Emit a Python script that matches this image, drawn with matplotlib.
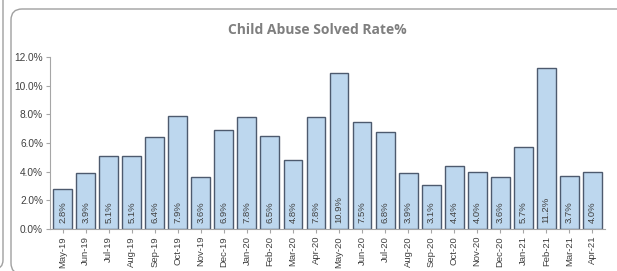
import matplotlib
matplotlib.use('Agg')
import matplotlib.pyplot as plt
from matplotlib.patches import FancyBboxPatch
from matplotlib.transforms import IdentityTransform
from matplotlib.ticker import FuncFormatter

# Daten
monate = ['May-19', 'Jun-19', 'Jul-19', 'Aug-19', 'Sep-19', 'Oct-19', 'Nov-19', 'Dec-19',
          'Jan-20', 'Feb-20', 'Mar-20', 'Apr-20', 'May-20', 'Jun-20', 'Jul-20', 'Aug-20',
          'Sep-20', 'Oct-20', 'Nov-20', 'Dec-20', 'Jan-21', 'Feb-21', 'Mar-21', 'Apr-21']
rate = [2.8, 3.9, 5.1, 5.1, 6.4, 7.9, 3.6, 6.9, 7.8, 6.5, 4.8, 7.8,
        10.9, 7.5, 6.8, 3.9, 3.1, 4.4, 4.0, 3.6, 5.7, 11.2, 3.7, 4.0]
y_ticks = [0, 2, 4, 6, 8, 10, 12]

W, H = 617, 271
fig = plt.figure(figsize=(W / 100, H / 100), dpi=100, facecolor='white')
plt.rcParams['font.family'] = ['Liberation Sans', 'DejaVu Sans']

# Rahmen (Pixelkoordinaten, Ursprung unten links)
rahmen = FancyBboxPatch((11, -3), 640, 265,
                        boxstyle='round,pad=0,rounding_size=11',
                        transform=IdentityTransform(), fill=False,
                        edgecolor='#A0A0A0', linewidth=1.0)
fig.patches.append(rahmen)
rahmen2 = FancyBboxPatch((-100, 2), 103, 300,
                         boxstyle='round,pad=0,rounding_size=9',
                         transform=IdentityTransform(), fill=False,
                         edgecolor='#A0A0A0', linewidth=1.0)
fig.patches.append(rahmen2)

ax = fig.add_axes([50 / W, 1 - 229 / H, 555 / W, 172 / H])
x = range(len(monate))
ax.bar(x, rate, width=0.82, color='#BDD7EE', edgecolor='#4D5A6E', linewidth=1.0)

for i, v in enumerate(rate):
    ax.text(i, 0.45, f'{v:.1f}%', rotation=90, ha='center', va='bottom',
            fontsize=6.8, color='#404040')

ax.set_xlim(-0.55, len(monate) - 0.45)
ax.set_ylim(0, 12)
ax.set_yticks(y_ticks)
ax.yaxis.set_major_formatter(FuncFormatter(lambda v, p: f'{v:.1f}%'))
ax.set_xticks(list(x))
ax.set_xticklabels(monate, rotation=90, fontsize=6.8, color='#404040')
ax.tick_params(axis='y', labelsize=7.3, labelcolor='#404040', length=3, color='#A6A6A6', pad=2)
ax.tick_params(axis='x', length=3, color='#A6A6A6', pad=2)
for s in ['top', 'right']:
    ax.spines[s].set_visible(False)
ax.spines['left'].set_color('#A6A6A6')
ax.spines['bottom'].set_color('#A6A6A6')

fig.text(317 / W, 1 - 30 / H, 'Child Abuse Solved Rate%', ha='center', va='center',
         fontsize=10, fontweight='bold', color='#7F7F7F', family=['Open Sans', 'DejaVu Sans'])

fig.savefig('out.png', dpi=100)
